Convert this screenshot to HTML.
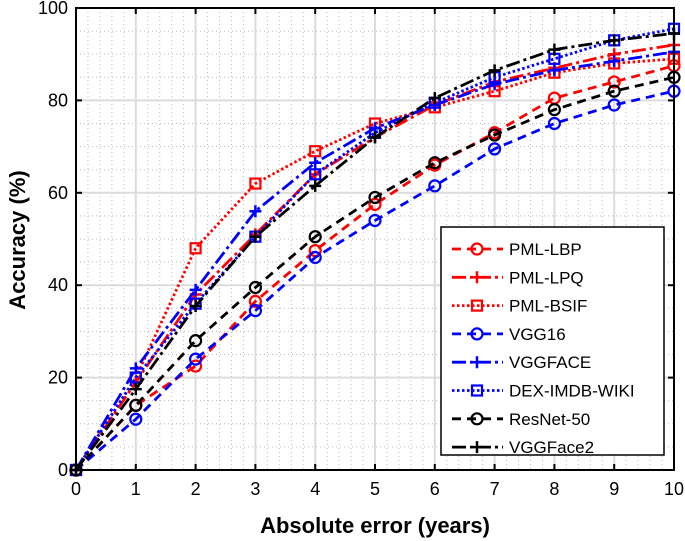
<!DOCTYPE html>
<html><head><meta charset="utf-8"><style>
html,body{margin:0;padding:0;background:#fff;}
svg{display:block;font-family:"Liberation Sans",Arial,sans-serif;}
</style></head><body>
<svg id="chart" width="685" height="541" viewBox="0 0 685 541">
<g id="grid"></g>
<g id="series"></g>
<g id="axes"></g>
<text x="375" y="533" text-anchor="middle" font-size="22" font-weight="bold">Absolute error (years)</text>
<text transform="translate(25,240) rotate(-90)" text-anchor="middle" font-size="22" font-weight="bold">Accuracy (%)</text>
<g id="legend"></g>
</svg>
<script>
const categories = [0,1,2,3,4,5,6,7,8,9,10];
const xTicks = ["0","1","2","3","4","5","6","7","8","9","10"];
const yTicks = [0,20,40,60,80,100];
const seriesNames = ["PML-LBP","PML-LPQ","PML-BSIF","VGG16","VGGFACE","DEX-IMDB-WIKI","ResNet-50","VGGFace2"];
const pmlLbp   = [0,14,22.5,36.5,47.5,57.5,66,73,80.5,84,87.5];
const pmlLpq   = [0,19,38,51,64,72,79,84,87,90,92];
const pmlBsif  = [0,20,48,62,69,75,78.5,82,86,88,89];
const vgg16    = [0,11,24,34.5,46,54,61.5,69.5,75,79,82];
const vggface  = [0,22,39,56,66.5,74,79,83.5,86.5,88.5,90.5];
const dex      = [0,20,36,50.5,64,73,79.5,85,89,93,95.5];
const resnet50 = [0,14,28,39.5,50.5,59,66.5,72.5,78,82,85];
const vggface2 = [0,17.5,35.5,50.5,61.5,72,80.5,86.5,91,93,94.5];

const NS="http://www.w3.org/2000/svg";
const X0=76,X1=674,Y0=470,Y1=8;
const xs=v=>X0+(v-0)/10*(X1-X0);
const ys=v=>Y0-(v/100)*(Y0-Y1);
function mk(tag,attrs,parent){const e=document.createElementNS(NS,tag);for(const k in attrs)e.setAttribute(k,attrs[k]);parent.appendChild(e);return e;}
const grid=document.getElementById('grid'),axes=document.getElementById('axes'),ser=document.getElementById('series'),leg=document.getElementById('legend');
for(let i=1;i<50;i++){if(i%5===0)continue;const l=mk('line',{x1:xs(i/5),x2:xs(i/5),y1:Y1,y2:Y0,stroke:'#bbb','stroke-width':1,'stroke-dasharray':'1,3'},grid);
}
for(let v=5;v<100;v+=5){if(v%20===0)continue;const l=mk('line',{x1:X0,x2:X1,y1:ys(v),y2:ys(v),stroke:'#bbb','stroke-width':1,'stroke-dasharray':'1,3'},grid);
}
categories.forEach(c=>{const l=mk('line',{x1:xs(c),x2:xs(c),y1:Y1,y2:Y0,stroke:'#dcdcdc','stroke-width':2},grid);
});
yTicks.forEach(v=>{const l=mk('line',{x1:X0,x2:X1,y1:ys(v),y2:ys(v),stroke:'#dcdcdc','stroke-width':2},grid);
});
const box=mk('rect',{x:X0,y:Y1,width:X1-X0,height:Y0-Y1,fill:'none',stroke:'#000','stroke-width':2},axes);

categories.forEach((c,i)=>{
  mk('line',{x1:xs(c),x2:xs(c),y1:Y0,y2:Y0-6,stroke:'#000','stroke-width':2},axes);
  mk('line',{x1:xs(c),x2:xs(c),y1:Y1,y2:Y1+6,stroke:'#000','stroke-width':2},axes);
  const t=mk('text',{x:xs(c),y:Y0+25,'text-anchor':'middle','font-size':18},axes);t.textContent=xTicks[i];
  
});
yTicks.forEach(v=>{
  mk('line',{x1:X0,x2:X0+6,y1:ys(v),y2:ys(v),stroke:'#000','stroke-width':2},axes);
  mk('line',{x1:X1,x2:X1-6,y1:ys(v),y2:ys(v),stroke:'#000','stroke-width':2},axes);
  const t=mk('text',{x:X0-8,y:ys(v)+6,'text-anchor':'end','font-size':18},axes);t.textContent=String(v);
  
});
const styles=[
 {d:pmlLbp,c:'#ff0000',dash:'9,6',m:'o'},
 {d:pmlLpq,c:'#ff0000',dash:'14,4,3,4',m:'+'},
 {d:pmlBsif,c:'#ff0000',dash:'2.5,2.5',m:'s'},
 {d:vgg16,c:'#0000ff',dash:'9,6',m:'o'},
 {d:vggface,c:'#0000ff',dash:'14,4,3,4',m:'+'},
 {d:dex,c:'#0000ff',dash:'2.5,2.5',m:'s'},
 {d:resnet50,c:'#000',dash:'9,6',m:'o'},
 {d:vggface2,c:'#000',dash:'14,4,3,4',m:'+'}];
function marker(m,x,y,c,parent){
  if(m==='o')return mk('circle',{cx:x,cy:y,r:5.5,fill:'none',stroke:c,'stroke-width':2.2},parent);
  if(m==='s')return mk('rect',{x:x-5,y:y-5,width:10,height:10,fill:'none',stroke:c,'stroke-width':2.2},parent);
  return mk('path',{d:`M${x-6},${y}H${x+6}M${x},${y-6}V${y+6}`,stroke:c,'stroke-width':2.5},parent);
}
styles.forEach((s,k)=>{
  const g=mk('g',{},ser);
  
  
  const pts=s.d.map((v,i)=>xs(categories[i])+','+ys(v)).join(' ');
  mk('polyline',{points:pts,fill:'none',stroke:s.c,'stroke-width':2.8,'stroke-dasharray':s.dash},g);
  s.d.forEach((v,i)=>{const m=marker(s.m,xs(categories[i]),ys(v),s.c,g);
    });
});
const lb=mk('rect',{x:441,y:227,width:223,height:228,fill:'#fff',stroke:'#000','stroke-width':1.5},leg);

styles.forEach((s,k)=>{
  const y=249+k*28.3;
  const g=mk('g',{},leg);
  
  
  mk('line',{x1:452,x2:503,y1:y,y2:y,stroke:s.c,'stroke-width':2.8,'stroke-dasharray':s.dash},g);
  marker(s.m,477,y,s.c,g);
  const t=mk('text',{x:509,y:y+6,'font-size':17},g);t.textContent=seriesNames[k];
});
</script>
</body></html>
